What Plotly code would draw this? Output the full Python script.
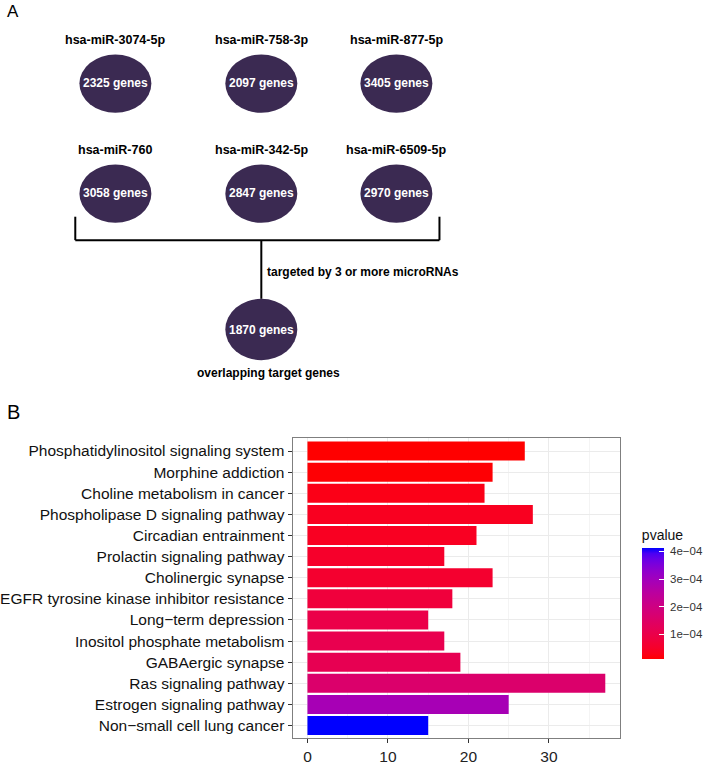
import numpy as np
import plotly.graph_objects as go

# ---------------- data ----------------
mirnas = ["hsa-miR-3074-5p", "hsa-miR-758-3p", "hsa-miR-877-5p",
          "hsa-miR-760", "hsa-miR-342-5p", "hsa-miR-6509-5p"]
gene_counts = [2325, 2097, 3405, 3058, 2847, 2970]
overlap_count = 1870
bracket_label = "targeted by 3 or more microRNAs"
overlap_label = "overlapping target genes"

pathways = ["Phosphatidylinositol signaling system", "Morphine addiction",
            "Choline metabolism in cancer", "Phospholipase D signaling pathway",
            "Circadian entrainment", "Prolactin signaling pathway",
            "Cholinergic synapse", "EGFR tyrosine kinase inhibitor resistance",
            "Long\u2212term depression", "Inositol phosphate metabolism",
            "GABAergic synapse", "Ras signaling pathway",
            "Estrogen signaling pathway", "Non\u2212small cell lung cancer"]
counts = [27, 23, 22, 28, 21, 17, 23, 18, 15, 17, 19, 37, 25, 15]
pvalues = [1.2e-5, 1.5e-5, 3.0e-5, 3.9e-5, 4.2e-5, 5.4e-5, 6.0e-5,
           8.0e-5, 1.0e-4, 1.1e-4, 1.15e-4, 1.6e-4, 2.9e-4, 4.13e-4]
pv_tickvals = [1e-4, 2e-4, 3e-4, 4e-4]
pv_ticktext = ["1e\u221204", "2e\u221204", "3e\u221204", "4e\u221204"]
x_tickvals = [0, 10, 20, 30]

# ---------------- colour scale (Lab interpolation red -> blue, like ggplot) ----------------
def srgb_to_lab(rgb):
    c = np.array(rgb, float) / 255
    c = np.where(c > 0.04045, ((c + 0.055) / 1.055) ** 2.4, c / 12.92)
    M = np.array([[0.4124564, 0.3575761, 0.1804375],
                  [0.2126729, 0.7151522, 0.0721750],
                  [0.0193339, 0.1191920, 0.9503041]])
    xyz = M @ c / np.array([0.95047, 1.0, 1.08883])
    f = np.where(xyz > 216 / 24389, np.cbrt(xyz), (24389 / 27 * xyz + 16) / 116)
    return np.array([116 * f[1] - 16, 500 * (f[0] - f[1]), 200 * (f[1] - f[2])])

def lab_to_srgb(lab):
    L, a, b = lab
    fy = (L + 16) / 116
    fx = fy + a / 500
    fz = fy - b / 200
    f = np.array([fx, fy, fz])
    xyz = np.where(f ** 3 > 216 / 24389, f ** 3, (116 * f - 16) / (24389 / 27))
    xyz = xyz * np.array([0.95047, 1.0, 1.08883])
    Minv = np.array([[3.2404542, -1.5371385, -0.4985314],
                     [-0.9692660, 1.8760108, 0.0415560],
                     [0.0556434, -0.2040259, 1.0572252]])
    c = Minv @ xyz
    c = np.clip(c, 0, 1)
    c = np.where(c > 0.0031308, 1.055 * c ** (1 / 2.4) - 0.055, 12.92 * c)
    c = np.clip(np.round(c * 255), 0, 255).astype(int)
    return "rgb(%d,%d,%d)" % tuple(c)

lab_lo = srgb_to_lab([255, 0, 0])
lab_hi = srgb_to_lab([0, 0, 255])
colorscale = [[t, lab_to_srgb(lab_lo + (lab_hi - lab_lo) * t)] for t in np.linspace(0, 1, 21)]

# ---------------- figure ----------------
W, H = 708, 765
SANS = "Liberation Sans, Arial, sans-serif"
fig = go.Figure()

fig.add_trace(go.Bar(
    x=counts, y=pathways, orientation="h",
    marker=dict(color=pvalues, colorscale=colorscale,
                cmin=min(pvalues), cmax=max(pvalues), line=dict(width=0),
                colorbar=dict(
                    x=647 / W, xanchor="left", xpad=0, ypad=0,
                    y=1 - 599 / H, yanchor="middle",
                    lenmode="pixels", len=132, thicknessmode="pixels", thickness=22,
                    outlinewidth=0,
                    tickvals=pv_tickvals,
                    ticktext=["\u00a0" + t for t in pv_ticktext],
                    ticks="inside", ticklen=5, tickcolor="white", tickwidth=1,
                    tickfont=dict(family=SANS, size=11.5, color="#333333"),
                    title=dict(text="pvalue", side="top",
                               font=dict(family=SANS, size=14, color="#111111")),
                )),
    hoverinfo="skip", showlegend=False,
))

fig.update_layout(
    width=W, height=H, margin=dict(l=0, r=0, t=0, b=0),
    paper_bgcolor="white", plot_bgcolor="rgba(0,0,0,0)",
    bargap=0.1,
    xaxis=dict(domain=[292.7 / W, 625 / W], range=[-1.85, 38.85],
               tickvals=x_tickvals, ticks="outside", ticklen=4, tickcolor="#333333",
               tickfont=dict(family=SANS, size=15.5, color="#222222"),
               showgrid=True, gridcolor="#ebebeb", gridwidth=1.1,
               minor=dict(dtick=5, tick0=5, showgrid=True, gridcolor="#f4f4f4", gridwidth=0.6),
               showline=True, mirror=True, linecolor="#7f7f7f", linewidth=1.1,
               zeroline=False, fixedrange=True),
    yaxis=dict(domain=[1 - 746 / H, 1 - 443 / H], type="category",
               categoryorder="array", categoryarray=pathways,
               range=[13.6, -0.6],
               ticks="outside", ticklen=4, tickcolor="#333333",
               tickfont=dict(family=SANS, size=15.5, color="#111111"),
               showgrid=True, gridcolor="#ebebeb", gridwidth=1.1,
               showline=True, mirror=True, linecolor="#7f7f7f", linewidth=1.1,
               zeroline=False, fixedrange=True),
    xaxis2=dict(domain=[0, 1], range=[0, W], visible=False, anchor="y2", fixedrange=True),
    yaxis2=dict(domain=[0, 1], range=[H, 0], visible=False, anchor="x2", fixedrange=True),
)

# ---------------- panel A diagram (layout constants) ----------------
col_x = [113, 261, 398]
row_y = [84.5, 195.7]
ell_w, ell_h = 73, 59
label_dy = 44
ell_color = "#3b2a52"
TXT = 12

shapes = []
annots = []
for i, (name, n) in enumerate(zip(mirnas, gene_counts)):
    cx = col_x[i % 3]
    cy = row_y[i // 3]
    shapes.append(dict(type="circle", xref="x2", yref="y2",
                       x0=cx - ell_w / 2, x1=cx + ell_w / 2,
                       y0=cy - ell_h / 2, y1=cy + ell_h / 2,
                       fillcolor=ell_color, line=dict(width=0)))
    annots.append(dict(x=cx, y=cy - 1, xref="x2", yref="y2", text="<b>%d genes</b>" % n,
                       showarrow=False, xanchor="center", yanchor="middle",
                       font=dict(family=SANS, size=TXT, color="white")))
    annots.append(dict(x=cx, y=cy - label_dy, xref="x2", yref="y2", text="<b>%s</b>" % name,
                       showarrow=False, xanchor="center", yanchor="middle",
                       font=dict(family=SANS, size=12.5, color="black")))

# bracket
br_left, br_right, br_top, br_y = 72.3, 441.7, 219, 242.7
mid_x = 261
bot_cy, bot_h = 333, 62
line_style = dict(color="black", width=2)
for x0, y0, x1, y1 in [(br_left, br_top, br_left, br_y), (br_right, br_top, br_right, br_y),
                       (br_left, br_y, br_right, br_y), (mid_x, br_y, mid_x, bot_cy - bot_h / 2)]:
    shapes.append(dict(type="line", xref="x2", yref="y2", x0=x0, y0=y0, x1=x1, y1=y1,
                       line=line_style))
shapes.append(dict(type="circle", xref="x2", yref="y2",
                   x0=mid_x - ell_w / 2, x1=mid_x + ell_w / 2,
                   y0=bot_cy - bot_h / 2, y1=bot_cy + bot_h / 2,
                   fillcolor=ell_color, line=dict(width=0)))
annots.append(dict(x=mid_x, y=bot_cy, xref="x2", yref="y2", text="<b>%d genes</b>" % overlap_count,
                   showarrow=False, xanchor="center", yanchor="middle",
                   font=dict(family=SANS, size=TXT, color="white")))
annots.append(dict(x=mid_x + 3.5, y=275, xref="x2", yref="y2", text="<b>%s</b>" % bracket_label,
                   showarrow=False, xanchor="left", yanchor="middle",
                   font=dict(family=SANS, size=TXT, color="black")))
annots.append(dict(x=268, y=376.7, xref="x2", yref="y2", text="<b>%s</b>" % overlap_label,
                   showarrow=False, xanchor="center", yanchor="middle",
                   font=dict(family=SANS, size=TXT, color="black")))
annots.append(dict(x=1, y=12, xref="x2", yref="y2", text="A", showarrow=False,
                   xanchor="left", yanchor="middle",
                   font=dict(family=SANS, size=17, color="black")))
annots.append(dict(x=1, y=416.5, xref="x2", yref="y2", text="B", showarrow=False,
                   xanchor="left", yanchor="middle",
                   font=dict(family=SANS, size=20, color="black")))

fig.update_layout(shapes=shapes, annotations=annots)
fig.write_html("out.html", config={"displayModeBar": False},
               post_script="document.body.style.margin='0px';document.body.style.overflow='hidden';")
